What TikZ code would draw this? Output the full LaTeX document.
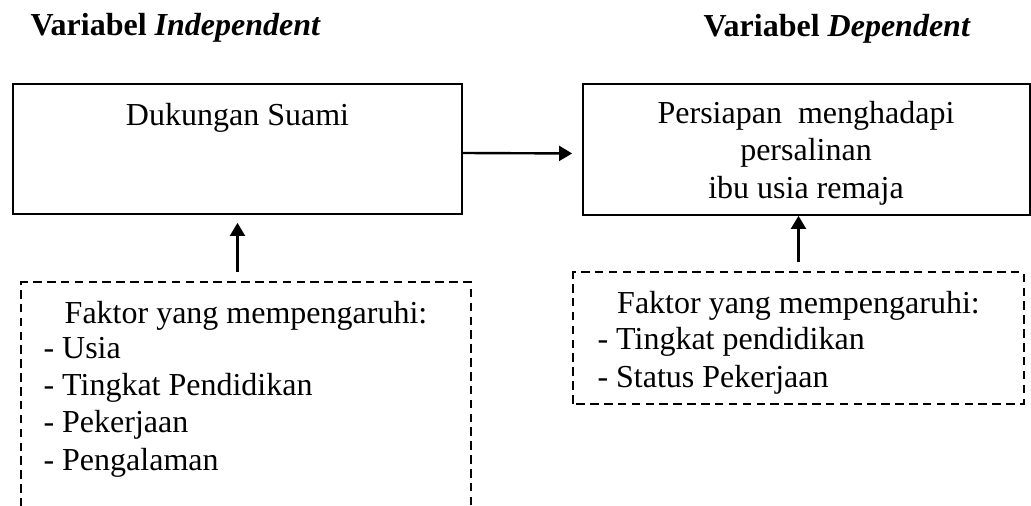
\documentclass[tikz,border=0pt]{standalone}
\usepackage{fontspec}
\setmainfont{Liberation Serif}
\usetikzlibrary{arrows.meta}

\tikzset{
  kotak/.style={draw, line width=0.65pt, rectangle, inner sep=0pt},
  kotakputus/.style={rectangle, inner sep=0pt},
  garisputus/.style={line width=0.75pt, dash pattern=on 3.2pt off 2pt},
  panah/.style={line width=0.9pt, -{Triangle[length=4.9pt,width=5.6pt]}},
  teks/.style={font=\fontsize{12}{13.9}\selectfont, inner sep=0pt},
  judul/.style={font=\fontsize{12}{13.9}\selectfont\bfseries, inner sep=0pt, anchor=base west}
}

\begin{document}
\begin{tikzpicture}[x=0.375pt,y=-0.375pt]
\useasboundingbox (0,0) rectangle (1031,506);

% judul variabel
\node[judul] (judulInd) at (30,36) {Variabel \textit{Independent}};
\node[judul] (judulDep) at (703,37) {Variabel \textit{Dependent}};

% kotak utama
\node[kotak, minimum width={449*0.375pt}, minimum height={130*0.375pt}] (dukungan) at (237.5,149) {};
\node[kotak, minimum width={447*0.375pt}, minimum height={131*0.375pt}] (persiapan) at (806.5,149.5) {};
\node[teks, anchor=base] (teksDukungan) at (237.5,126) {Dukungan Suami};
% base = baris terakhir
\node[teks, anchor=base, align=center] (teksPersiapan) at (806,198) {Persiapan\ \ menghadapi\\persalinan\\ibu usia remaja};

% kotak faktor
\node[kotakputus, minimum width={448*0.375pt}, minimum height={223*0.375pt}] (faktorKiri) at (246,394.5) {};
\node[kotakputus, minimum width={449*0.375pt}, minimum height={130*0.375pt}] (faktorKanan) at (798.5,338) {};
\draw[garisputus] (faktorKiri.south west) |- (faktorKiri.north east) -- (faktorKiri.south east);
\draw[garisputus] (faktorKanan.south west) rectangle (faktorKanan.north east);

\node[teks, anchor=base] (judulFaktorKiri) at (246,323) {Faktor yang mempengaruhi:};
\node[teks, anchor=base west, align=left] (daftarKiri) at (43,470) {- Usia\\- Tingkat Pendidikan\\- Pekerjaan\\- Pengalaman};
\node[teks, anchor=base] (judulFaktorKanan) at (798.5,313) {Faktor yang mempengaruhi:};
\node[teks, anchor=base west, align=left] (daftarKanan) at (597,387) {- Tingkat pendidikan\\- Status Pekerjaan};

% panah
\draw[panah, shorten >=3.75pt] ([yshift=-1.5pt]dukungan.east) -- ([yshift=-1.5pt]persiapan.west);
\draw[panah, shorten <=4.1pt, shorten >=3pt] (faktorKiri.north -| dukungan.south) -- (dukungan.south);
\draw[panah, shorten <=3.75pt] (faktorKanan.north) -- (persiapan.south -| faktorKanan.north);
\end{tikzpicture}
\end{document}
